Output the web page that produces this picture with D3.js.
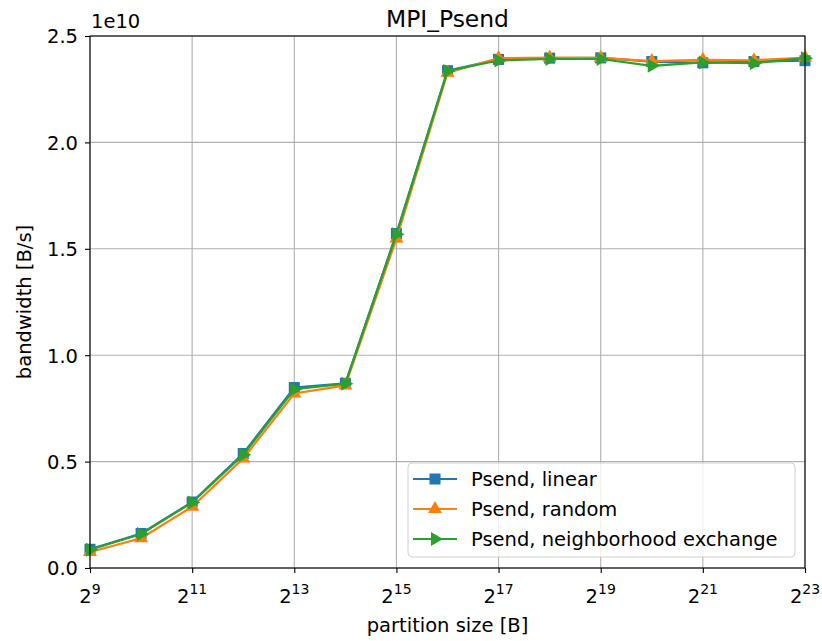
<!DOCTYPE html>
<html><head><meta charset="utf-8">
<script src="https://cdn.jsdelivr.net/npm/d3@7"></script>
<style>body{margin:0;background:#fff;} text{font-family:"DejaVu Sans",sans-serif;}</style>
</head><body><svg id="c" width="822" height="641"></svg>
<script>
const exponents = [9,10,11,12,13,14,15,16,17,18,19,20,21,22,23];
const linearVals = [0.88,1.62,3.1,5.38,8.48,8.68,15.72,23.37,23.9,23.96,23.97,23.8,23.74,23.8,23.84];
const randomVals = [0.75,1.4,2.88,5.15,8.2,8.58,15.48,23.27,23.96,23.98,23.97,23.82,23.88,23.86,23.99];
const neighVals  = [0.86,1.6,3.08,5.32,8.4,8.66,15.68,23.36,23.85,23.92,23.92,23.6,23.76,23.72,23.96];
const xTickExps = [9,11,13,15,17,19,21,23];
const yTicks = [0,0.5,1.0,1.5,2.0,2.5];
const seriesNames = ["Psend, linear","Psend, random","Psend, neighborhood exchange"];
const colors = ["#1f77b4","#ff7f0e","#2ca02c"];

const FS = 19.5;
const svg = d3.select("#c");
const L=90, R=805, T=36, B=568;
const x = d3.scaleLog().base(2).domain([Math.pow(2,9),Math.pow(2,23)]).range([L,R]);
const y = d3.scaleLinear().domain([0,2.5e10]).range([B,T]);

// grid
const g = svg.append("g");
xTickExps.forEach(e=>{
  g.append("line").attr("x1",x(Math.pow(2,e))).attr("x2",x(Math.pow(2,e))).attr("y1",T).attr("y2",B)
   .attr("stroke","#b0b0b0").attr("stroke-width",1.1);
});
yTicks.forEach(v=>{
  g.append("line").attr("x1",L).attr("x2",R).attr("y1",y(v*1e10)).attr("y2",y(v*1e10))
   .attr("stroke","#b0b0b0").attr("stroke-width",1.1);
});

// axes
const xAxis = d3.axisBottom(x).tickValues(xTickExps.map(e=>Math.pow(2,e))).tickFormat("").tickSize(5).tickSizeOuter(0);
const xa = svg.append("g").attr("transform",`translate(0,${B})`).call(xAxis);
xa.select(".domain").remove();
xa.selectAll("line").attr("stroke","#000").attr("stroke-width",1.1);
xTickExps.forEach(e=>{
  const t = svg.append("text").attr("x",x(Math.pow(2,e))).attr("y",603).attr("text-anchor","middle").attr("font-size",FS);
  t.append("tspan").text("2");
  t.append("tspan").attr("font-size",14).attr("dy",-9).text(e);
});
const yAxis = d3.axisLeft(y).tickValues(yTicks.map(v=>v*1e10)).tickFormat(d=>(d/1e10).toFixed(1)).tickSize(5).tickSizeOuter(0);
const ya = svg.append("g").attr("transform",`translate(${L},0)`).call(yAxis);
ya.select(".domain").remove();
ya.selectAll("line").attr("stroke","#000").attr("stroke-width",1.1);
ya.selectAll("text").attr("font-size",FS).attr("font-family","DejaVu Sans").attr("fill","#000").attr("x",-12).attr("dy","0.35em");
svg.append("text").attr("x",L+1).attr("y",28).attr("font-size",FS).text("1e10");

// series
const data = [linearVals,randomVals,neighVals];
const line = d3.line().x((d,i)=>x(Math.pow(2,exponents[i]))).y(d=>y(d*1e9));
function marker(sel,k,cx,cy){
  if(k===0) sel.append("rect").attr("x",cx-5.5).attr("y",cy-5.5).attr("width",11).attr("height",11).attr("fill",colors[k]);
  else if(k===1) sel.append("path").attr("d",d3.symbol(d3.symbolTriangle,85)()).attr("transform",`translate(${cx},${cy})`).attr("fill",colors[k]);
  else sel.append("path").attr("d",d3.symbol(d3.symbolTriangle,85)()).attr("transform",`translate(${cx},${cy}) rotate(90)`).attr("fill",colors[k]);
}
data.forEach((vals,k)=>{
  const sg = svg.append("g");
  sg.append("path").datum(vals).attr("d",line).attr("fill","none").attr("stroke",colors[k]).attr("stroke-width",2.2);
  vals.forEach((v,i)=>marker(sg,k,x(Math.pow(2,exponents[i])),y(v*1e9)));
});

// frame
svg.append("rect").attr("x",L).attr("y",T).attr("width",R-L).attr("height",B-T).attr("fill","none").attr("stroke","#000").attr("stroke-width",1.1);

// legend
const lg = svg.append("g");
lg.append("rect").attr("x",408).attr("y",463).attr("width",387).attr("height",94).attr("rx",4)
  .attr("fill","#fff").attr("fill-opacity",0.8).attr("stroke","#d0d0d0");
seriesNames.forEach((n,k)=>{
  const yy = 479 + k*30;
  lg.append("line").attr("x1",413).attr("x2",457).attr("y1",yy).attr("y2",yy).attr("stroke",colors[k]).attr("stroke-width",2.2);
  marker(lg,k,435,yy);
  lg.append("text").attr("x",471).attr("y",yy+7).attr("font-size",FS).text(n);
});

// labels
svg.append("text").attr("x",(L+R)/2).attr("y",27).attr("text-anchor","middle").attr("font-size",23.4).text("MPI_Psend");
svg.append("text").attr("x",(L+R)/2).attr("y",632).attr("text-anchor","middle").attr("font-size",FS).text("partition size [B]");
svg.append("text").attr("transform",`translate(31,${(T+B)/2}) rotate(-90)`).attr("text-anchor","middle").attr("font-size",FS).text("bandwidth [B/s]");
</script></body></html>
